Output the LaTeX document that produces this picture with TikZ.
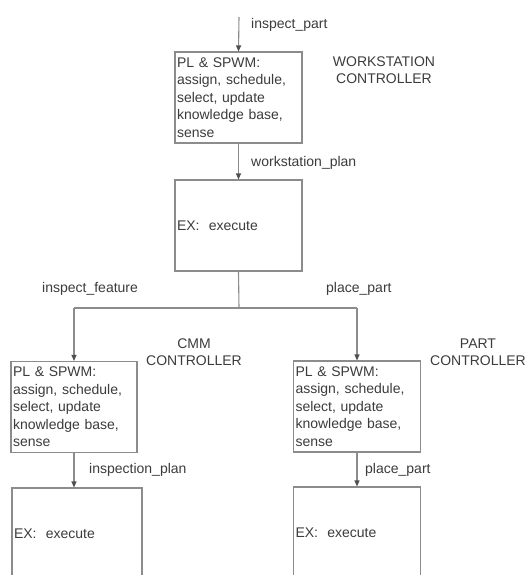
\documentclass[tikz,border=0pt]{standalone}
\usepackage{fontspec}
\setmainfont{Liberation Sans}
\usetikzlibrary{arrows.meta}
\definecolor{linegray}{HTML}{8C8C8C}
\definecolor{tipgray}{HTML}{505050}
\definecolor{textgray}{HTML}{3C3C3C}
\begin{document}
\begin{tikzpicture}[x=1pt,y=-1pt,
  font=\fontsize{14}{17.5}\selectfont, text=textgray,
  box/.style={draw=linegray, line width=1.1pt, rectangle, inner xsep=2pt, inner ysep=0pt,
    align=left, anchor=center},
  pbox/.style={box, text width=123pt, minimum height=91pt},
  lbl/.style={anchor=west, inner sep=0pt},
  ctl/.style={align=center, inner sep=0pt, font=\fontsize{14}{17}\selectfont},
  arr/.style={draw=linegray, line width=1.1pt, -{Triangle[length=6pt,width=5pt,color=tipgray]}},
  ln/.style={draw=linegray, line width=1.1pt}]
\useasboundingbox (0,0) rectangle (528,575);
\clip (0,0) rectangle (528,575);
\fill[white] (0,0) rectangle (528,575);

% workstation level
\coordinate (in) at (239,17);
\node[pbox] (wpl) at (238.5,97.5) {PL \& SPWM:\\assign, schedule,\\select, update\\knowledge base,\\sense};
\node[pbox] (wex) at (238.5,225.5) {EX:\ \ execute};
\node[lbl] (l1) at (251,25) {inspect\_part};
\node[lbl] (l2) at (251,163) {workstation\_plan};
\node[ctl] (wc) at (384,70.5) {WORKSTATION\\CONTROLLER};
\draw[arr] (in) -- (wpl.north);
\draw[arr] (wpl.south) -- (wex.north);

% split
\coordinate (split) at (239,308);
\coordinate (lsplit) at (74,308);
\coordinate (rsplit) at (357,308);
\draw[ln] (wex.south) -- (split);
\draw[ln] (lsplit) -- (rsplit);
\node[lbl] (l3) at (42,289) {inspect\_feature};
\node[lbl] (l4) at (326,289) {place\_part};

% CMM controller
\node[pbox, text width=122pt] (cpl) at (74,407) {PL \& SPWM:\\assign, schedule,\\select, update\\knowledge base,\\sense};
\node[ctl] (cc) at (194,352) {CMM\\CONTROLLER};
\draw[arr] (lsplit) -- (cpl.north);
\node[box, text width=126pt, minimum height=92pt] (cex) at (77,534) {EX:\ \ execute};
\draw[arr] (cpl.south) -- (cpl.south |- cex.north);
\node[lbl] (l5) at (89,470) {inspection\_plan};

% part controller
\node[pbox] (ppl) at (357,406.5) {PL \& SPWM:\\assign, schedule,\\select, update\\knowledge base,\\sense};
\node[ctl] (pc) at (478,352) {PART\\CONTROLLER};
\draw[arr] (rsplit) -- (ppl.north);
\node[box, text width=123pt, minimum height=92pt] (pex) at (357,533) {EX:\ \ execute};
\draw[arr] (ppl.south) -- (ppl.south |- pex.north);
\node[lbl] (l6) at (365,470) {place\_part};
\end{tikzpicture}
\end{document}
